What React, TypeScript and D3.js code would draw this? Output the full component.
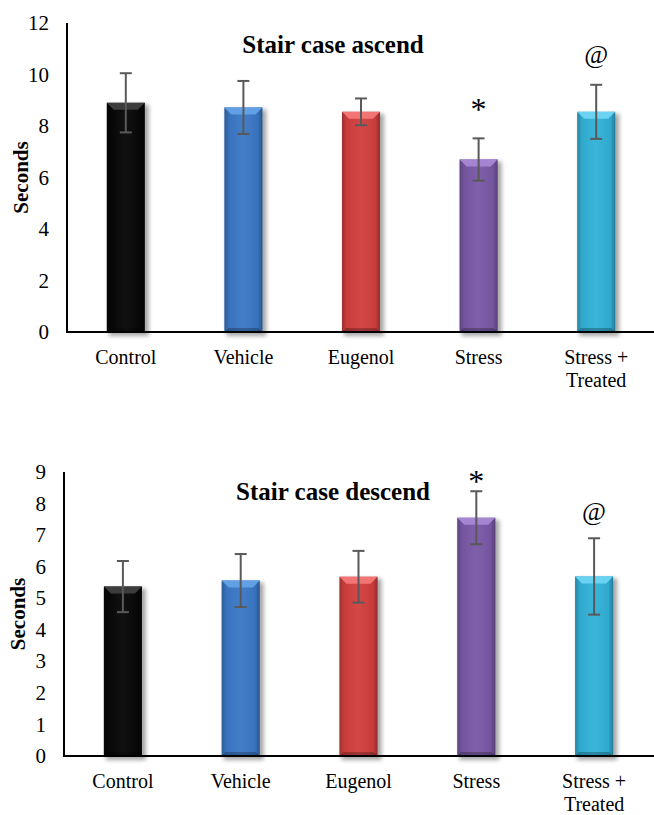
import React from "react";
import * as d3 from "d3";

const categories = ["Control", "Vehicle", "Eugenol", "Stress", "Stress +\nTreated"];
const ascendMeans = [8.9, 8.72, 8.55, 6.7, 8.55];
const ascendErrors = [1.15, 1.03, 0.52, 0.82, 1.05];
const ascendMarks = ["", "", "", "*", "@"];
const ascendTicks = [0, 2, 4, 6, 8, 10, 12];

const descendMeans = [5.37, 5.56, 5.68, 7.55, 5.69];
const descendErrors = [0.81, 0.84, 0.82, 0.84, 1.21];
const descendMarks = ["", "", "", "*", "@"];
const descendTicks = [0, 1, 2, 3, 4, 5, 6, 7, 8, 9];

const barColors = ["#070707", "#3b78c6", "#d23f3f", "#7a58a7", "#32b1d7"];
const bevelColors = ["#3c3c3c", "#62a0e6", "#f27474", "#a585d2", "#6bd3f2"];

const FONT = "'Liberation Serif', 'Times New Roman', serif";

type ChartProps = {
  id: string;
  top: number;
  bottom: number;
  left: number;
  right: number;
  max: number;
  ticks: number[];
  means: number[];
  errors: number[];
  marks: string[];
  title: string;
  titleY: number;
  labelX: number;
  markOffsets: number[];
};

function Chart(p: ChartProps) {
  const x = d3.scaleBand<string>().domain(categories).range([p.left, p.right]).paddingInner(0.677).paddingOuter(0.3385);
  const y = d3.scaleLinear().domain([0, p.max]).range([p.bottom, p.top]);
  const w = x.bandwidth();
  const b = 7;
  return (
    <g>
      <defs>
        <filter id={`sh-${p.id}`} x="-30%" y="-10%" width="160%" height="120%">
          <feGaussianBlur stdDeviation="2" />
        </filter>
        <linearGradient id={`hg-${p.id}`} x1="0" x2="1" y1="0" y2="0">
          <stop offset="0" stopColor="#000" stopOpacity="0.25" />
          <stop offset="0.12" stopColor="#000" stopOpacity="0.05" />
          <stop offset="0.5" stopColor="#fff" stopOpacity="0.04" />
          <stop offset="0.88" stopColor="#000" stopOpacity="0.05" />
          <stop offset="1" stopColor="#000" stopOpacity="0.3" />
        </linearGradient>
      </defs>
      {/* y axis */}
      <line x1={p.left} x2={p.left} y1={p.top} y2={p.bottom} stroke="#000" strokeWidth={2} />
      {p.ticks.map((t) => (
        <text key={t} x={p.left - 18} y={y(t)} dy="0.34em" textAnchor="end" fontFamily={FONT} fontSize={21}>
          {t}
        </text>
      ))}
      <text
        transform={`translate(${p.labelX},${(p.top + p.bottom) / 2}) rotate(-90)`}
        textAnchor="middle"
        dy="0.35em"
        fontFamily={FONT}
        fontSize={21}
        fontWeight="bold"
      >
        Seconds
      </text>
      {/* bars */}
      {categories.map((c, i) => {
        const x0 = x(c)!;
        const y0 = y(p.means[i]);
        const h = p.bottom - y0;
        return (
          <g key={c}>
            <rect x={x0 + 2} y={y0 + 2} width={w + 2} height={h + 2} fill="#000" opacity={0.35} filter={`url(#sh-${p.id})`} />
            <rect x={x0} y={y0} width={w} height={h} fill={barColors[i]} />
            <rect x={x0} y={y0} width={w} height={h} fill={`url(#hg-${p.id})`} />
            <polygon
              points={`${x0},${y0} ${x0 + w},${y0} ${x0 + w - b},${y0 + b} ${x0 + b},${y0 + b}`}
              fill={bevelColors[i]}
            />
            <polygon
              points={`${x0},${p.bottom} ${x0 + w},${p.bottom} ${x0 + w - 4},${p.bottom - 4} ${x0 + 4},${p.bottom - 4}`}
              fill="#000"
              opacity={0.25}
            />
          </g>
        );
      })}
      {/* error bars */}
      {categories.map((c, i) => {
        const cx = x(c)! + w / 2;
        const yt = y(p.means[i] + p.errors[i]);
        const yb = y(p.means[i] - p.errors[i]);
        return (
          <g key={`e-${c}`} stroke="#595959" strokeWidth={2}>
            <line x1={cx} x2={cx} y1={yt} y2={yb} />
            <line x1={cx - 6} x2={cx + 6} y1={yt} y2={yt} />
            <line x1={cx - 6} x2={cx + 6} y1={yb} y2={yb} />
          </g>
        );
      })}
      {/* significance marks */}
      {categories.map((c, i) =>
        p.marks[i] ? (
          <text
            key={`m-${c}`}
            x={x(c)! + w / 2}
            y={y(p.means[i] + p.errors[i]) - p.markOffsets[i]}
            textAnchor="middle"
            fontFamily={FONT}
            fontSize={p.marks[i] === "*" ? 32 : 26}
          >
            {p.marks[i]}
          </text>
        ) : null
      )}
      {/* x axis */}
      <line x1={p.left - 1} x2={654} y1={p.bottom} y2={p.bottom} stroke="#000" strokeWidth={2} />
      {categories.map((c) => {
        const lines = c.split("\n");
        return (
          <text key={`l-${c}`} textAnchor="middle" fontFamily={FONT} fontSize={20}>
            {lines.map((ln, j) => (
              <tspan key={j} x={x(c)! + w / 2} y={p.bottom + 32 + j * 23}>
                {ln}
              </tspan>
            ))}
          </text>
        );
      })}
      <text x={333} y={p.titleY} textAnchor="middle" fontFamily={FONT} fontSize={25} fontWeight="bold">
        {p.title}
      </text>
    </g>
  );
}

export default function App() {
  return (
    <svg width={654} height={815} style={{ position: "absolute", left: 0, top: 0, background: "#fff" }}>
      <rect width={654} height={815} fill="#fff" />
      <Chart
        id="a"
        top={23}
        bottom={332}
        left={67}
        right={655}
        max={12}
        ticks={ascendTicks}
        means={ascendMeans}
        errors={ascendErrors}
        marks={ascendMarks}
        title="Stair case ascend"
        titleY={53}
        labelX={21}
        markOffsets={[0, 0, 0, 18, 22]}
      />
      <Chart
        id="d"
        top={472}
        bottom={756}
        left={64}
        right={653}
        max={9}
        ticks={descendTicks}
        means={descendMeans}
        errors={descendErrors}
        marks={descendMarks}
        title="Stair case descend"
        titleY={500}
        labelX={18}
        markOffsets={[0, 0, 0, -1, 18]}
      />
    </svg>
  );
}
